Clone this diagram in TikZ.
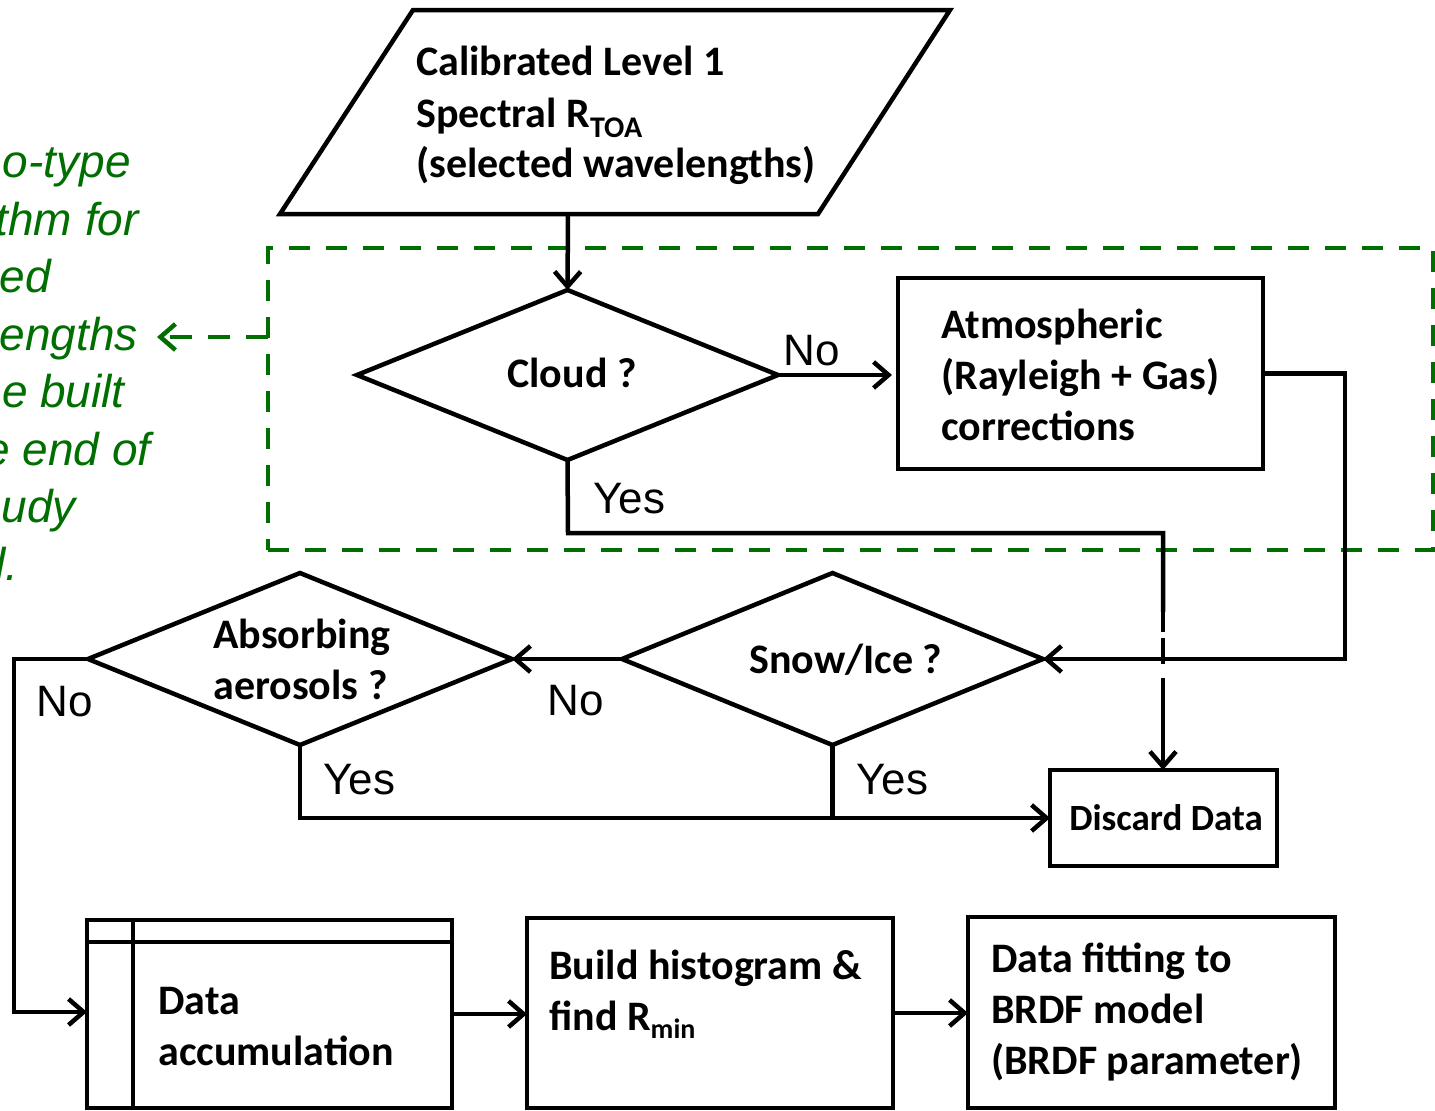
\documentclass[tikz,border=0pt]{standalone}
\usepackage{fontspec}
\setmainfont{Carlito}
\newfontfamily\arialf{Liberation Sans}
\usetikzlibrary{arrows.meta,shapes.geometric}
\definecolor{dkgreen}{RGB}{0,110,0}
\begin{document}
\begin{tikzpicture}[x=1pt,y=-1pt,line width=4.5pt,
  bx/.style={draw, rectangle, inner sep=0pt, outer sep=0pt},
  dm/.style={draw, diamond, inner sep=0pt, outer sep=0pt},
  txt/.style={font=\fontsize{42}{51}\selectfont\bfseries, anchor=base west, inner sep=0pt},
  stxt/.style={font=\fontsize{37}{44}\selectfont\bfseries, anchor=base west, inner sep=0pt},
  lbl/.style={font=\arialf\fontsize{44}{50}\selectfont, anchor=base west, inner sep=0pt},
  gtxt/.style={font=\arialf\itshape\fontsize{46}{57}\selectfont, text=dkgreen, anchor=base east, inner sep=0pt},
  arr/.style={-{Straight Barb[length=15pt,width=26pt,line width=4.5pt]}},
  garr/.style={dkgreen, line width=4.5pt, dash pattern=on 22pt off 16pt, -{Straight Barb[length=15pt,width=26pt,line width=4.5pt]}}
]
\useasboundingbox (0,0) rectangle (1435,1111);

% green dashed frame
\node[draw=dkgreen, line width=4.5pt, dash pattern=on 21pt off 16pt, rectangle, inner sep=0pt, outer sep=0pt,
  minimum width=1165pt, minimum height=302pt] (gbox) at (850.5,399) {};
\coordinate (gtip) at (157,337);
\draw[garr] (gtip -| gbox.west) -- (gtip);

% green note (clipped at the left edge, as in the reference)
\node[gtxt] (g1) at (133,177) {o-type};
\node[gtxt] (g2) at (141,235) {thm for};
\node[gtxt] (g3) at (53,292) {ed};
\node[gtxt] (g4) at (140,350) {engths};
\node[gtxt] (g5) at (127,407) {e built};
\node[gtxt] (g6) at (153,465) {e end of};
\node[gtxt] (g7) at (78,522) {udy};
\node[gtxt] (g8) at (21,580) {l.};

% input parallelogram
\draw (413,10) -- (950,10) -- (818,214) -- (280,214) -- cycle;
\coordinate (inp) at (568,214);
\node[txt] (in1) at (414,75) {Calibrated Level 1};
\node[txt] (in2) at (414,127) {Spectral R\raisebox{-10pt}{\fontsize{30}{30}\selectfont TOA}};
\node[txt] (in3) at (414,177) {(selected wavelengths)};

% decision diamonds
\node[dm, minimum width=421pt, minimum height=170pt] (cloud) at (567.5,375) {};
\node[txt, anchor=base] (cloudt) at (572,387) {Cloud ?};
\node[dm, minimum width=421pt, minimum height=172pt] (snow) at (832.5,659) {};
\node[txt] (snowt) at (747,673) {Snow/Ice ?};
\node[dm, minimum width=424pt, minimum height=172pt] (abs) at (300,659) {};
\node[txt] (abs1) at (211,648) {Absorbing};
\node[txt] (abs2) at (211,699) {aerosols ?};

% process boxes
\node[bx, minimum width=365pt, minimum height=191pt] (atm) at (1080.5,373.5) {};
\node[txt] (atm1) at (939,338) {Atmospheric};
\node[txt] (atm2) at (939,389) {(Rayleigh + Gas)};
\node[txt] (atm3) at (939,440) {corrections};

\node[bx, minimum width=227pt, minimum height=96pt] (disc) at (1163.5,818) {};
\node[stxt] (disct) at (1067,830) {Discard Data};

\node[bx, minimum width=365pt, minimum height=188pt] (acc) at (269.5,1014) {};
\draw ([xshift=46pt]acc.north west) -- ([xshift=46pt]acc.south west);
\draw ([yshift=-22pt]acc.north west) -- ([yshift=-22pt]acc.north east);
\node[txt] (acc1) at (156,1014) {Data};
\node[txt] (acc2) at (156,1065) {accumulation};

\node[bx, minimum width=366pt, minimum height=190pt] (hist) at (710,1013) {};
\node[txt] (hist1) at (547,979) {Build histogram \&};
\node[txt] (hist2) at (547,1030) {find R\raisebox{-8pt}{\fontsize{28}{28}\selectfont min}};

\node[bx, minimum width=367pt, minimum height=191pt] (fit) at (1151.5,1012.5) {};
\node[txt] (fit1) at (989,972) {Data fitting to};
\node[txt] (fit2) at (989,1023) {BRDF model};
\node[txt] (fit3) at (989,1074) {(BRDF parameter)};

% connectors
\draw[arr] (inp) -- (cloud.north);
\draw[arr, shorten >=6pt] (cloud.east) -- (cloud.east -| atm.west);
\coordinate (rt) at (1345,500);
\draw[arr] (atm.east) -| (rt) |- (snow.east);
\draw[arr] (snow.west) -- (abs.east);
\coordinate (lft) at (14,1012);
\draw[arr] (abs.west) -| (lft) -- (lft -| acc.west);
\draw[arr] (abs.south) |- (disc.west);
\draw (snow.south) -- (snow.south |- disc.west);
\coordinate (cy) at (568,533);
\coordinate (d1) at (1163,612);
\coordinate (d2) at (1163,678);
\draw (cloud.south) -- (cy) -| (d1);
\draw[dash pattern=on 20pt off 6pt on 26pt off 14pt] (d1) -- (d2);
\draw[arr] (d2) -- (d2 |- disc.north);
\draw[arr] (acc.east) -- (acc.east -| hist.west);
\draw[arr] (hist.east) -- (hist.east -| fit.west);

% Yes / No labels
\node[lbl] (no1) at (781,365) {No};
\node[lbl] (yes1) at (591,513) {Yes};
\node[lbl] (no2) at (545,715) {No};
\node[lbl] (no3) at (34,716) {No};
\node[lbl] (yes2) at (321,794) {Yes};
\node[lbl] (yes3) at (854,794) {Yes};
\end{tikzpicture}
\end{document}
